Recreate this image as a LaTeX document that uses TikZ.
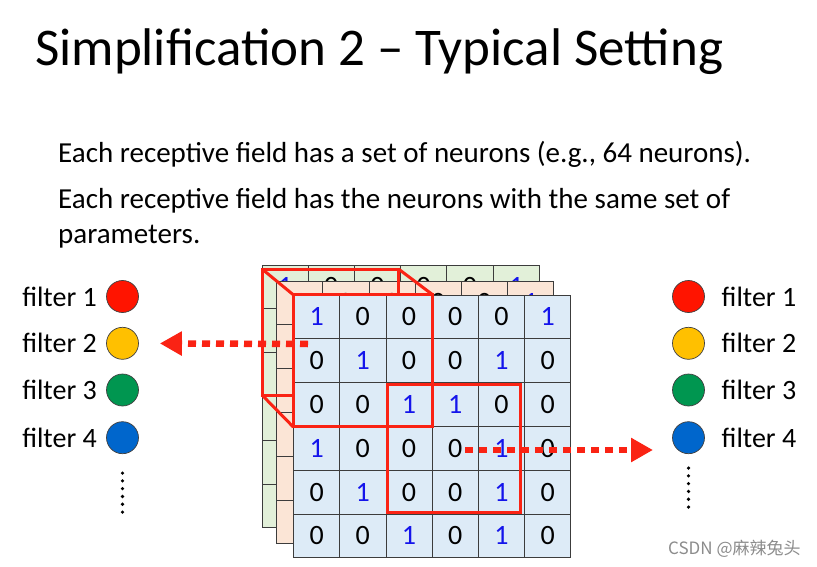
\documentclass[tikz,border=0pt]{standalone}
\usepackage{fontspec}
\setmainfont{Carlito}
\newfontfamily\cjkfont{Noto Sans CJK SC}
\usetikzlibrary{arrows.meta}
\definecolor{frontblue}{RGB}{221,235,247}
\definecolor{midpeach}{RGB}{251,229,214}
\definecolor{backgreen}{RGB}{226,240,217}
\definecolor{gridgray}{RGB}{60,60,60}
\definecolor{boxred}{RGB}{250,35,20}
\definecolor{onesblue}{RGB}{20,20,235}
\definecolor{filtred}{RGB}{255,20,0}
\definecolor{filtyellow}{RGB}{255,192,0}
\definecolor{filtgreen}{RGB}{0,150,80}
\definecolor{filtblue}{RGB}{0,102,204}
\newcommand\cellval[1]{\ifnum#1=1 \color{onesblue}\fi#1}
\begin{document}
\begin{tikzpicture}[x=1pt,y=-1pt,
  cell/.style={draw=gridgray,line width=0.8pt,minimum width=46.2pt,minimum height=43.8pt,inner sep=0pt,font=\fontsize{28}{28}\selectfont},
  filter dot/.style={circle,draw=black!75,line width=0.7pt,minimum size=32pt,inner sep=0pt,anchor=center},
  filter label/.style={inner sep=0pt,font=\fontsize{28}{28}\selectfont},
  field box/.style={draw=boxred,line width=3pt},
  red arrow/.style={draw=boxred,line width=6.5pt,dash pattern=on 8pt off 6pt,-{Triangle[length=22pt,width=23pt]}}]
\useasboundingbox[fill=white] (0,0) rectangle (817,567);
\begin{scope}[every node/.style={anchor=base west,inner sep=0pt}]
\node[font=\fontsize{53}{53}\selectfont] (title) at (35,66) {Simplification 2 -- Typical Setting};
\node[font=\fontsize{29}{29}\selectfont] (line1) at (58,162.5) {Each receptive field has a set of neurons (e.g., 64 neurons).};
\node[font=\fontsize{29}{29}\selectfont] (line2) at (58,208.3) {Each receptive field has the neurons with the same set of};
\node[font=\fontsize{29}{29}\selectfont] (line3) at (58,243) {parameters.};
\end{scope}
% the two hidden channels
\foreach \lay/\dx/\dy/\col in {b/262/265/backgreen,m/276.5/281/midpeach}{
  \foreach \row [count=\r] in {{1,0,0,0,0,1},{0,1,0,0,1,0},{0,0,1,1,0,0},{1,0,0,0,1,0},{0,1,0,0,1,0},{0,0,1,0,1,0}}
    \foreach \v [count=\c] in \row
      \node[cell,fill=\col] (\lay-\r-\c) at ({\dx+(\c-0.5)*46.2},{\dy+(\r-0.5)*43.8}) {\cellval{\v}};
}
% back face of the receptive field
\coordinate (cubeA) at (262,269);
\coordinate (cubeB) at (398.5,269);
\coordinate (cubeC) at (262,395);
\draw[field box] (cubeA) rectangle (398.5,395);
% front channel
\foreach \row [count=\r] in {{1,0,0,0,0,1},{0,1,0,0,1,0},{0,0,1,1,0,0},{1,0,0,0,1,0},{0,1,0,0,1,0},{0,0,1,0,1,0}}
  \foreach \v [count=\c] in \row
    \node[cell,fill=frontblue] (f-\r-\c) at ({293.5+(\c-0.5)*46.2},{295+(\r-0.5)*43.8}) {\cellval{\v}};
\draw[field box] (f-1-1.north west) rectangle (f-3-3.south east);
\draw[field box] (cubeA) -- (f-1-1.north west);
\draw[field box] (cubeB) -- (f-1-3.north east);
\draw[field box] (cubeC) -- (f-3-1.south west);
\draw[field box] ([shift={(2,2)}]f-3-3.north west) rectangle ([shift={(-4,-2)}]f-5-5.south east);
% filters on the left
\begin{scope}[every node/.style={filter label,anchor=east}]
\node[filter dot,fill=filtred] (fl1) at (122.5,296.5) {};
\node[filter dot,fill=filtyellow] (fl2) at (122.5,343.3) {};
\node[filter dot,fill=filtgreen] (fl3) at (122.5,390) {};
\node[filter dot,fill=filtblue] (fl4) at (122.5,437.7) {};
\node (tl1) at (97,296.5) {filter 1};
\node (tl2) at (97,343.3) {filter 2};
\node (tl3) at (97,390) {filter 3};
\node (tl4) at (97,437.7) {filter 4};
\end{scope}
% filters on the right
\begin{scope}[every node/.style={filter label,anchor=west}]
\node[filter dot,fill=filtred] (fr1) at (688.5,296.5) {};
\node[filter dot,fill=filtyellow] (fr2) at (688.5,343.3) {};
\node[filter dot,fill=filtgreen] (fr3) at (688.5,390) {};
\node[filter dot,fill=filtblue] (fr4) at (688.5,437.7) {};
\node (tr1) at (721.5,296.5) {filter 1};
\node (tr2) at (721.5,343.3) {filter 2};
\node (tr3) at (721.5,390) {filter 3};
\node (tr4) at (721.5,437.7) {filter 4};
\end{scope}
\draw[line width=3.6pt,line cap=round,dash pattern=on 0pt off 7.8pt] ([yshift=-19pt]fl4.south) -- ++(0,39);
\draw[line width=3.6pt,line cap=round,dash pattern=on 0pt off 7.8pt] ([yshift=-14pt]fr4.south) -- ++(0,39);
% arrows
\coordinate (srcL) at (308,344);
\coordinate (srcR) at (465,450);
\coordinate (tipR) at (653,450);
\draw[red arrow,shorten >=21pt] (srcL) -- (fl2);
\draw[red arrow] (srcR) -- (tipR);
\node[anchor=base west,inner sep=0pt,text=black!45,font=\cjkfont\fontsize{17}{17}\selectfont] (mark) at (668,554) {CSDN @麻辣兔头};
\end{tikzpicture}
\end{document}
